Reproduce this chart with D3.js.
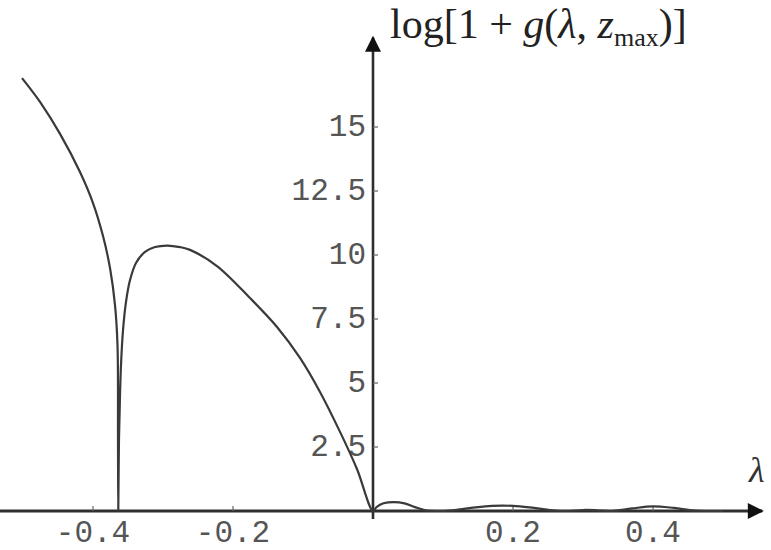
<!DOCTYPE html>
<html>
<head>
<meta charset="utf-8">
<script src="https://cdn.jsdelivr.net/npm/d3@7"></script>
<style>
  html, body { margin: 0; padding: 0; background: #fff; }
  svg { display: block; }
</style>
</head>
<body>
<div id="chart"></div>
<script>
// curve: lambda and log[1+g]
var lambdaVals = [-0.5014, -0.4757, -0.4471, -0.4186, -0.4, -0.3857, -0.3757, -0.3686, -0.365, -0.3643, -0.3639,
                  -0.3629, -0.3614, -0.36, -0.3571, -0.3529, -0.3471, -0.3386, -0.3257, -0.3114, -0.2943,
                  -0.2757, -0.2614, -0.2229, -0.1757, -0.1371, -0.1043, -0.0757, -0.0471, -0.0229, 0,
                  0.005, 0.015, 0.03, 0.045, 0.06, 0.075, 0.09, 0.11, 0.14, 0.17, 0.2, 0.23, 0.26,
                  0.28, 0.3, 0.32, 0.34, 0.37, 0.4, 0.43, 0.46, 0.5];
var logVals    = [16.91, 15.98, 14.73, 13.24, 12.03, 10.74, 9.49, 8.05, 6.48, 2.77, 0,
                  2.77, 4.53, 5.70, 7.07, 8.16, 9.02, 9.69, 10.12, 10.31, 10.37,
                  10.31, 10.20, 9.57, 8.32, 7.19, 5.98, 4.65, 3.09, 1.64, 0,
                  0.15, 0.3, 0.35, 0.3, 0.15, 0.03, 0, 0.02, 0.12, 0.2, 0.2, 0.12, 0.02,
                  0, 0.04, 0.03, 0, 0.1, 0.18, 0.12, 0.02, 0];

var xTicks = [-0.4, -0.2, 0.2, 0.4];
var xTickLabels = ["-0.4", "-0.2", "0.2", "0.4"];
var yTicks = [2.5, 5, 7.5, 10, 12.5, 15];
var yTickLabels = ["2.5", "5", "7.5", "10", "12.5", "15"];

var width = 771, height = 550;

var x = d3.scaleLinear().domain([-0.4, 0.4]).range([93, 653]);
var y = d3.scaleLinear().domain([0, 15]).range([511, 127]);

var svg = d3.select("#chart").append("svg")
    .attr("width", width)
    .attr("height", height);

var defs = svg.append("defs");
defs.append("marker")
    .attr("id", "arr")
    .attr("viewBox", "0 0 10 10")
    .attr("refX", 9).attr("refY", 5)
    .attr("markerUnits", "userSpaceOnUse")
    .attr("markerWidth", 18).attr("markerHeight", 16)
    .attr("orient", "auto")
  .append("path")
    .attr("d", "M0,0 L10,5 L0,10 Z")
    .attr("fill", "#111");

var axisColor = "#2e2e2e";

// x axis
svg.append("line")
    .attr("x1", 0).attr("x2", x(0.556))
    .attr("y1", y(0)).attr("y2", y(0))
    .attr("stroke", axisColor).attr("stroke-width", 3)
    .attr("marker-end", "url(#arr)");

// y axis
svg.append("line")
    .attr("x1", x(0)).attr("x2", x(0))
    .attr("y1", y(0) + 8).attr("y2", y(18.5))
    .attr("stroke", axisColor).attr("stroke-width", 2.6)
    .attr("marker-end", "url(#arr)");

// ticks
svg.append("g").selectAll("line")
    .data(xTicks)
    .join("line")
    .attr("x1", d => x(d)).attr("x2", d => x(d))
    .attr("y1", y(0)).attr("y2", y(0) - 5)
    .attr("stroke", "#666").attr("stroke-width", 1.2);

svg.append("g").selectAll("line")
    .data(yTicks)
    .join("line")
    .attr("x1", x(0)).attr("x2", x(0) + 5)
    .attr("y1", d => y(d)).attr("y2", d => y(d))
    .attr("stroke", "#666").attr("stroke-width", 1.2);

// tick labels
var tickFont = "'Liberation Mono', 'DejaVu Sans Mono', monospace";

svg.append("g").selectAll("text")
    .data(xTicks)
    .join("text")
    .attr("x", d => x(d))
    .attr("y", y(0) + 22)
    .attr("text-anchor", "middle")
    .attr("dominant-baseline", "central")
    .attr("font-family", tickFont)
    .attr("font-size", 31)
    .attr("fill", "#555")
    .text((d, i) => xTickLabels[i]);

svg.append("g").selectAll("text")
    .data(yTicks)
    .join("text")
    .attr("x", x(0) - 7)
    .attr("y", d => y(d))
    .attr("text-anchor", "end")
    .attr("dominant-baseline", "central")
    .attr("font-family", tickFont)
    .attr("font-size", 31)
    .attr("fill", "#555")
    .text((d, i) => yTickLabels[i]);

// curve
var pts = lambdaVals.map((l, i) => [l, logVals[i]]);
var line = d3.line()
    .x(d => x(d[0]))
    .y(d => y(d[1]))
    .curve(d3.curveCatmullRom.alpha(0.5));

svg.append("path")
    .datum(pts)
    .attr("d", line)
    .attr("fill", "none")
    .attr("stroke", "#3a3a3a")
    .attr("stroke-width", 2.2)
    .attr("stroke-linejoin", "round");

// axis labels
var serif = "'Liberation Serif', 'DejaVu Serif', serif";
var title = svg.append("text")
    .attr("x", 390).attr("y", 38)
    .attr("font-family", serif)
    .attr("font-size", 42)
    .attr("fill", "#222");
title.append("tspan").text("log[1 + ");
title.append("tspan").attr("font-style", "italic").text("g");
title.append("tspan").text("(");
title.append("tspan").attr("font-style", "italic").text("λ");
title.append("tspan").text(", ");
title.append("tspan").attr("font-style", "italic").text("z");
title.append("tspan").attr("font-size", 26).attr("dy", 8).text("max");
title.append("tspan").attr("dy", -8).text(")]");

svg.append("text")
    .attr("x", 749).attr("y", 482)
    .attr("font-family", serif)
    .attr("font-size", 36)
    .attr("font-style", "italic")
    .attr("fill", "#333")
    .text("λ");
</script>
</body>
</html>
